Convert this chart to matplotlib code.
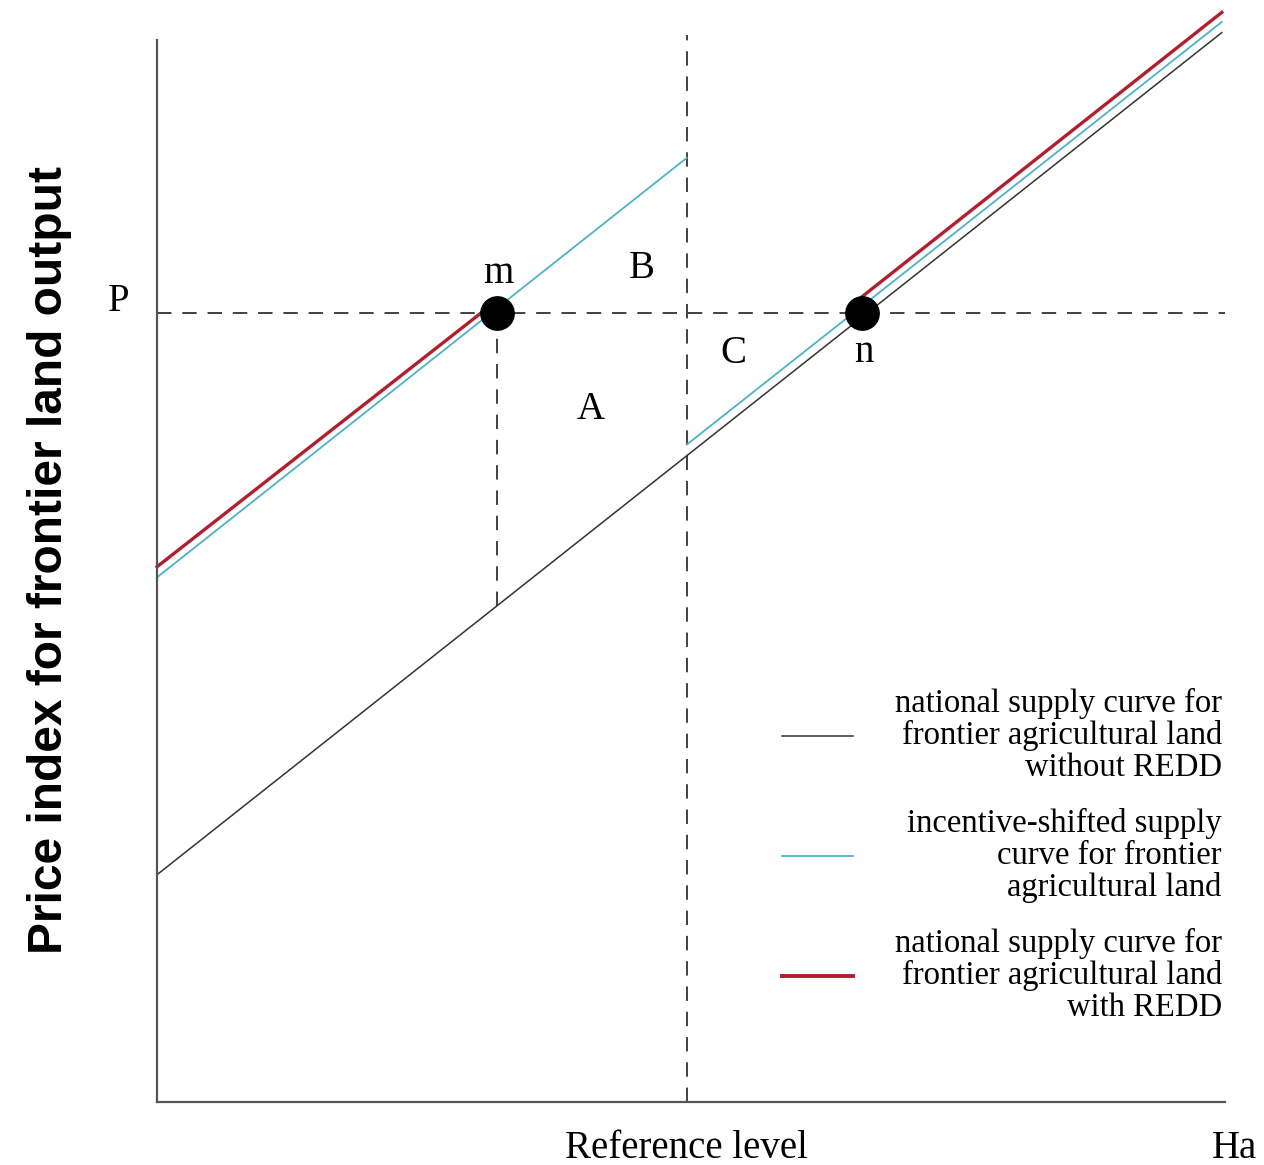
import matplotlib
matplotlib.use("Agg")
import matplotlib.pyplot as plt

# Diagram values (arbitrary units: x = Ha, y = price index)
price_p = 74.3
ref_x = 49.6
m_x = 31.8
n_x = 66.0

# supply curves as (x, y) end points
black_x = [0.0, 99.7]
black_y = [21.4, 100.7]
cyan_left_x = [0.0, 49.6]
cyan_left_y = [49.4, 88.9]
cyan_right_x = [49.6, 99.7]
cyan_right_y = [61.9, 101.7]
red_left_x = [0.0, 30.6]
red_left_y = [50.4, 74.5]
red_right_x = [65.6, 99.7]
red_right_y = [75.5, 102.6]
m_drop_y = 46.7

region_labels = ["m", "B", "A", "C", "n"]
region_x = [32.0, 45.4, 40.6, 54.0, 66.2]
region_y = [78.0, 78.5, 65.2, 70.5, 70.6]

legend_labels = [
    "national supply curve for\nfrontier agricultural land\nwithout REDD",
    "incentive-shifted supply\ncurve for frontier\nagricultural land",
    "national supply curve for\nfrontier agricultural land\nwith REDD",
]
legend_y = [34.5, 23.2, 11.9]

black = "#333333"
cyan = "#4db2c6"
red = "#b01f2e"
serif = "Liberation Serif"

fig = plt.figure(figsize=(12.64, 11.65), dpi=100)
ax = fig.add_axes([157 / 1264, 1 - 1102 / 1165, 1068 / 1264, 1062 / 1165])
ax.set_xlim(0, 100)
ax.set_ylim(0, 100)
for s in ["top", "right"]:
    ax.spines[s].set_visible(False)
for s in ["left", "bottom"]:
    ax.spines[s].set_color("#555555")
    ax.spines[s].set_linewidth(1.6)
ax.set_xticks([])
ax.set_yticks([])

dash = dict(color=black, lw=1.3, dashes=(8, 6), clip_on=False)
ax.plot([0, 100], [price_p, price_p], **dash)
ax.plot([ref_x, ref_x], [0, 100.5], **dash)
ax.plot([m_x, m_x], [m_drop_y, price_p], **dash)

ax.plot(black_x, black_y, color=black, lw=1.1, clip_on=False)
ax.plot(cyan_left_x, cyan_left_y, color=cyan, lw=1.3, clip_on=False)
ax.plot(cyan_right_x, cyan_right_y, color=cyan, lw=1.3, clip_on=False)
ax.plot(red_left_x, red_left_y, color=red, lw=2.4, clip_on=False)
ax.plot(red_right_x, red_right_y, color=red, lw=2.4, clip_on=False)

ax.plot([m_x, n_x], [price_p, price_p], "o", color="black", ms=24, zorder=5)

for lab, x, y in zip(region_labels, region_x, region_y):
    ax.text(x, y, lab, fontsize=28, family=serif, ha="center", va="center")

ax.text(-3.6, 75.4, "P", fontsize=28, family=serif, ha="center", va="center")
ax.text(ref_x, -4.4, "Reference level", fontsize=28, family=serif,
        ha="center", va="center", clip_on=False)
ax.text(100.9, -4.4, "Ha", fontsize=28, family=serif,
        ha="center", va="center", clip_on=False)

legend_colors = [black, cyan, red]
legend_lw = [1.1, 1.3, 2.8]
for lab, y, c, lw in zip(legend_labels, legend_y, legend_colors, legend_lw):
    ax.plot([58.5, 65.2], [y, y], color=c, lw=lw)
    ax.text(99.7, y, lab, fontsize=23.5, family=serif, ha="right",
            va="center", linespacing=1.06)

fig.text(50 / 1264, 1 - 560 / 1165, "Price index for frontier land output",
         rotation=90, fontsize=34.5, fontweight="bold", family="Liberation Sans",
         ha="center", va="center")

fig.savefig("out.png", dpi=100)
